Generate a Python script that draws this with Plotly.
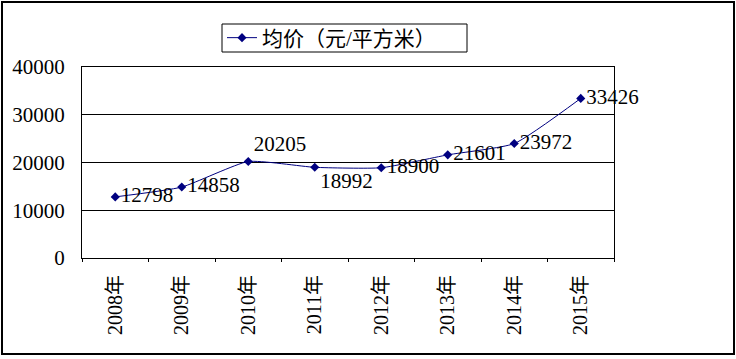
import plotly.graph_objects as go

years = ["2008年", "2009年", "2010年", "2011年", "2012年", "2013年", "2014年", "2015年"]
prices = [12798, 14858, 20205, 18992, 18900, 21601, 23972, 33426]
series_name = "均价（元/平方米）"
y_ticks = [0, 10000, 20000, 30000, 40000]

label_pos = ["middle right", "middle right", "top right", "bottom right",
             "middle right", "middle right", "middle right", "middle right"]

W, H = 736, 359
L, R, T, B = 82, 614, 67, 258
pw, ph = R - L, B - T

font_fam = "Liberation Serif, Noto Sans CJK SC, serif"

fig = go.Figure()
fig.add_trace(go.Scatter(
    x=years, y=prices, mode="lines+markers+text", name=series_name,
    line=dict(color="#000080", width=1, shape="spline", smoothing=0.5),
    marker=dict(symbol="diamond", size=7, color="#000080"),
    text=[str(v) for v in prices], textposition=label_pos,
    textfont=dict(family=font_fam, size=21, color="black"),
    cliponaxis=False,
))

def px_x(x):
    return (x - L) / pw

def px_y(y):
    return (B - y) / ph

fig.update_layout(
    width=W, height=H,
    margin=dict(l=L, r=W - R, t=T, b=H - B),
    paper_bgcolor="white", plot_bgcolor="white",
    showlegend=True,
    legend=dict(x=px_x(222), y=px_y(38), xanchor="left", yanchor="middle",
                borderwidth=0, bgcolor="rgba(0,0,0,0)",
                font=dict(family=font_fam, size=21, color="black"),
                itemwidth=30, tracegroupgap=0),
    xaxis=dict(type="category", showgrid=False, showline=True, linecolor="black",
               linewidth=1, mirror=True, ticks="outside", tickson="boundaries",
               ticklen=3, tickcolor="black", tickangle=-90,
               tickfont=dict(family=font_fam, size=20, color="black"),
               ticklabelstandoff=8,
               range=[-0.5, 7.5]),
    yaxis=dict(range=[0, 40000], tickvals=y_ticks, ticktext=[str(v) for v in y_ticks],
               showgrid=True, gridcolor="black", gridwidth=1,
               showline=True, linecolor="black", linewidth=1, mirror=True,
               ticks="", tickfont=dict(family=font_fam, size=21, color="black"),
               ticklabelstandoff=12,
               zeroline=False),
    shapes=[
        dict(type="rect", xref="paper", yref="paper",
             x0=px_x(2), x1=px_x(734), y0=px_y(354), y1=px_y(2),
             line=dict(color="black", width=2), layer="below"),
        dict(type="rect", xref="paper", yref="paper",
             x0=px_x(222), x1=px_x(467), y0=px_y(52), y1=px_y(24),
             line=dict(color="black", width=1), layer="below"),
    ],
)

fig.write_html("out.html")
